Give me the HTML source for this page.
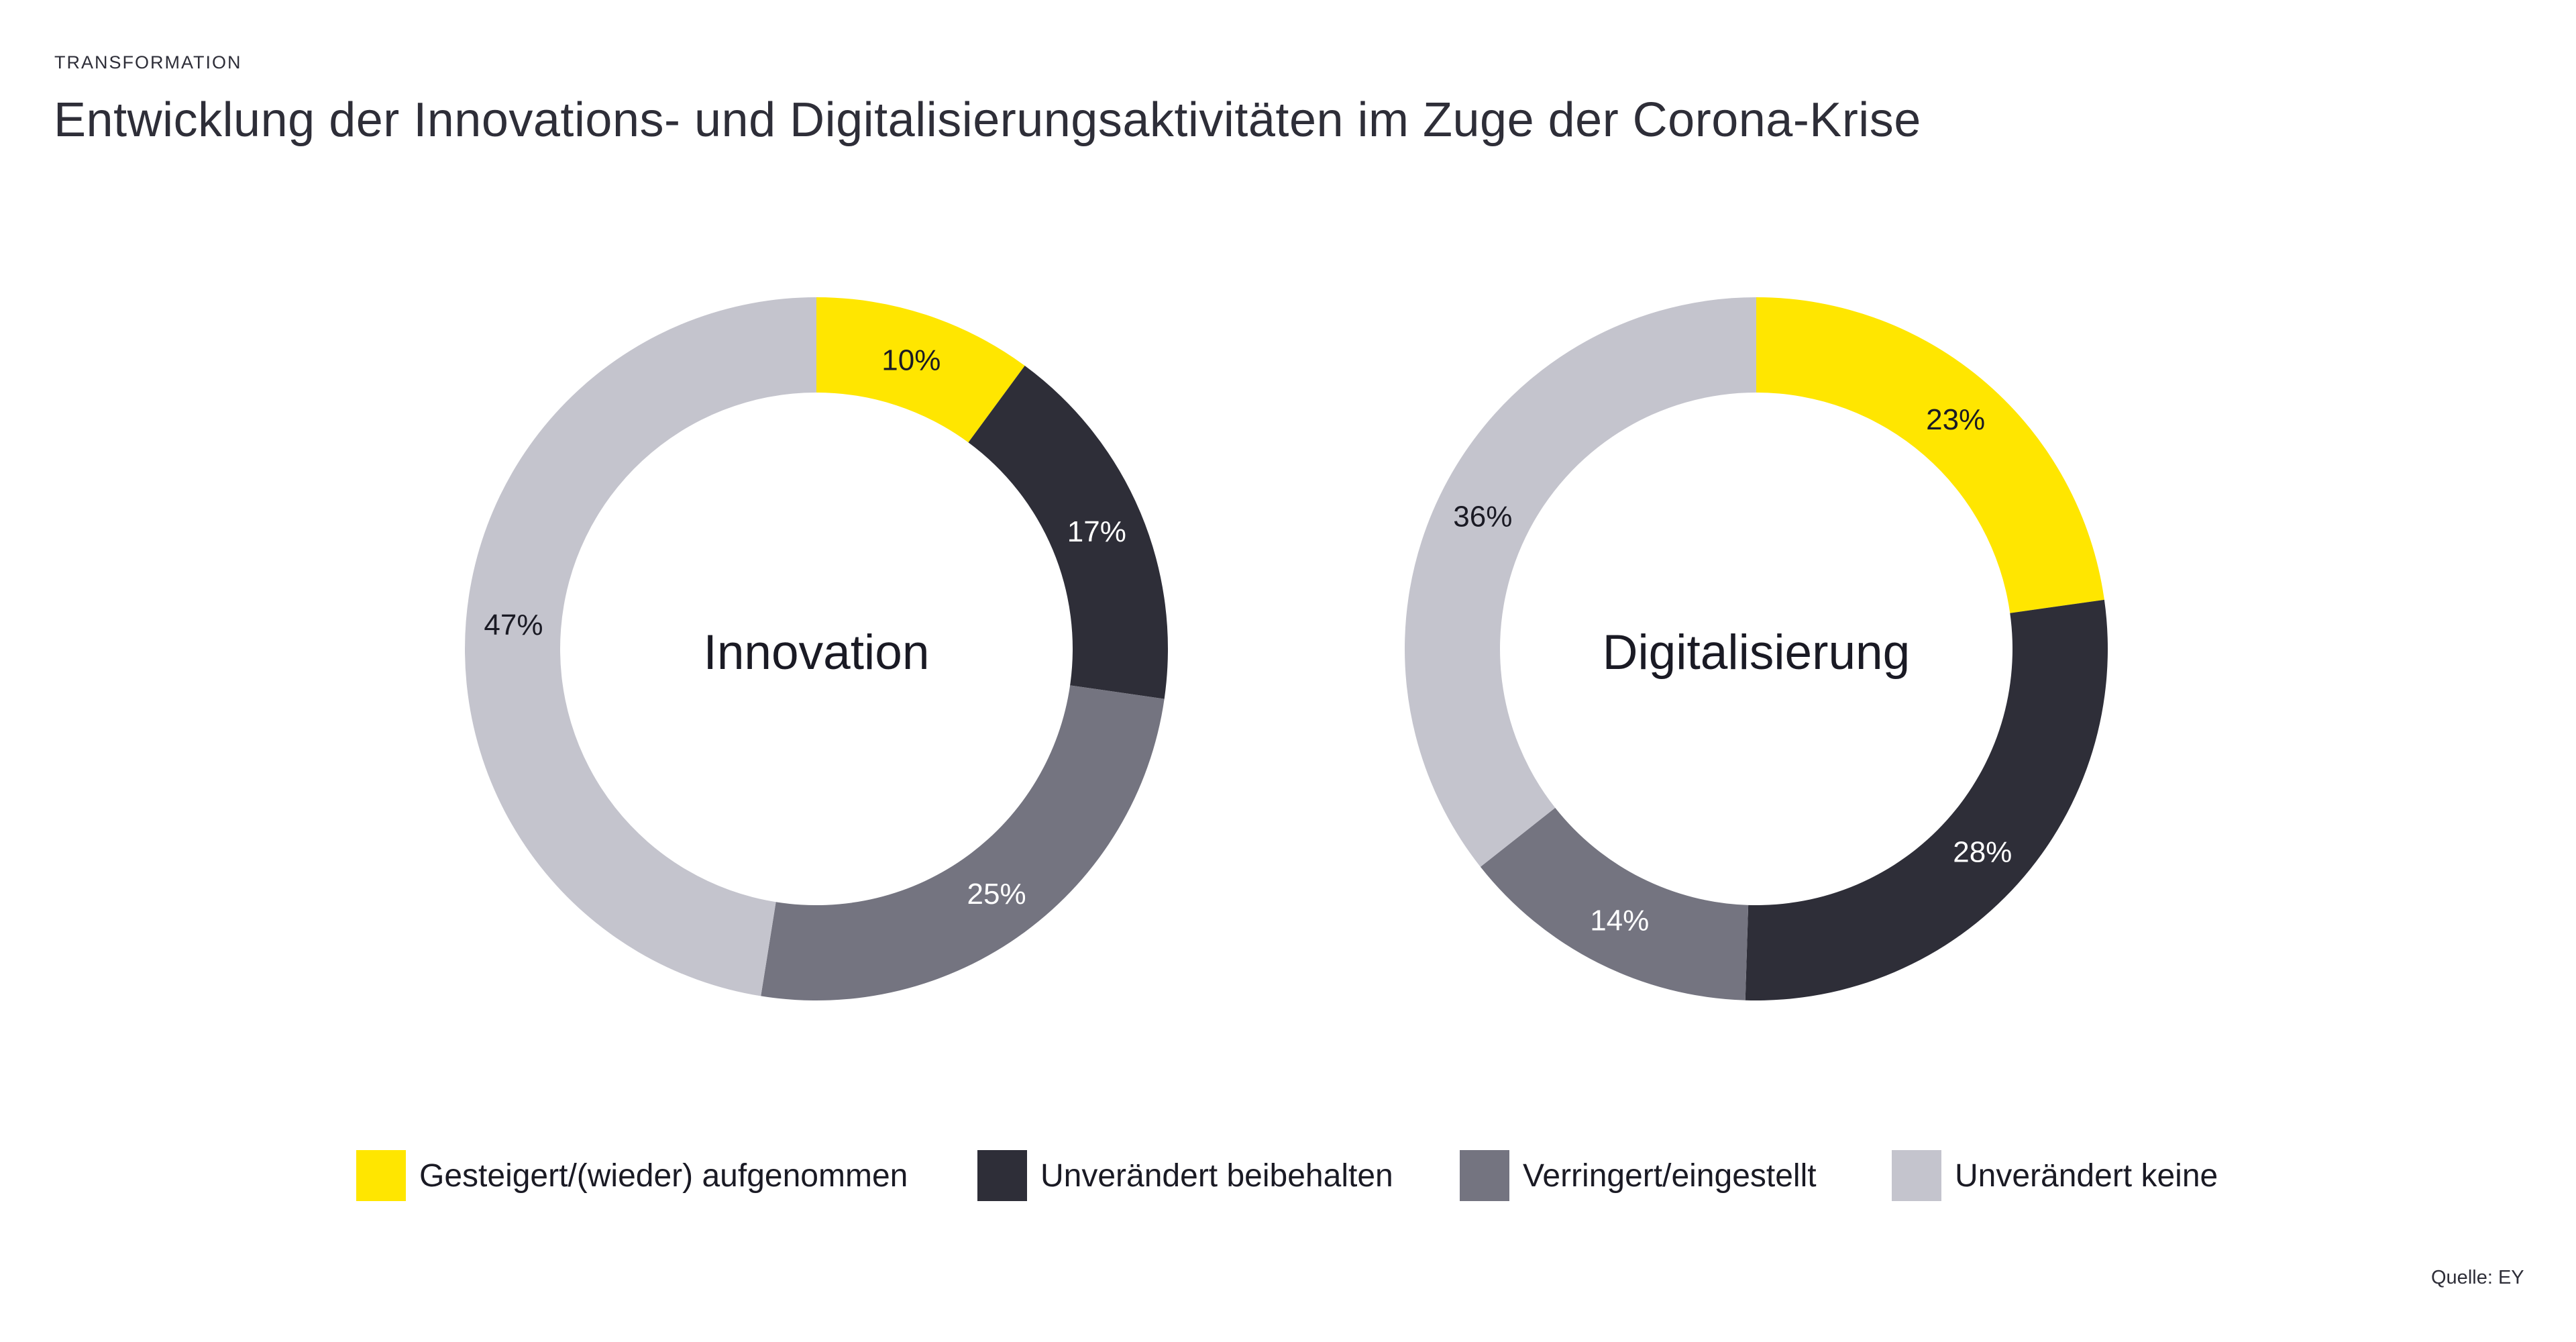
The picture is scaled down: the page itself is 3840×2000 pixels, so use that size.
<!DOCTYPE html>
<html><head><meta charset="utf-8"><style>
body{margin:0;width:3840px;height:2000px;background:#fff;font-family:"Liberation Sans",sans-serif;overflow:hidden;position:relative}
.t{position:absolute;color:#2e2e38;white-space:nowrap}
.leg{position:absolute;top:1714px;height:76px;display:flex;align-items:center}
.sw{width:74px;height:76px;margin-right:20px}
.leg span{font-size:48px;color:#1a1a24}
</style></head><body>
<div class="t" style="left:81px;top:78px;font-size:27px;letter-spacing:2px">TRANSFORMATION</div>
<div class="t" style="left:80px;top:138px;font-size:72px;letter-spacing:0.5px">Entwicklung der Innovations- und Digitalisierungsaktivitäten im Zuge der Corona-Krise</div>
<svg id="c" width="3840" height="2000" style="position:absolute;left:0;top:0"></svg>
<div class="leg" style="left:531px"><div class="sw" style="background:#ffe600"></div><span>Gesteigert/(wieder) aufgenommen</span></div>
<div class="leg" style="left:1457px"><div class="sw" style="background:#2e2e38"></div><span>Unverändert beibehalten</span></div>
<div class="leg" style="left:2176px"><div class="sw" style="background:#747480"></div><span>Verringert/eingestellt</span></div>
<div class="leg" style="left:2820px"><div class="sw" style="background:#c4c4cd"></div><span>Unverändert keine</span></div>
<div class="t" style="left:3624px;top:1888px;font-size:29px">Quelle: EY</div>
<script>
const categories=["Gesteigert/(wieder) aufgenommen","Unverändert beibehalten","Verringert/eingestellt","Unverändert keine"];
const innovationValues=[10,17,25,47];
const digitalValues=[23,28,14,36];
const chartTitles=["Innovation","Digitalisierung"];
const colors=["#ffe600","#2e2e38","#747480","#c4c4cd"];
const labelColors=["#1a1a24","#ffffff","#ffffff","#1a1a24"];
const svg=document.getElementById('c');const NS="http://www.w3.org/2000/svg";
function donut(cx,cy,vals,title,key){
 const R=524,r=382,tot=vals.reduce((a,b)=>a+b,0);let a0=0;
 const pt=(rad,a)=>[cx+rad*Math.sin(a),cy-rad*Math.cos(a)];
 vals.forEach((v,i)=>{
  const a1=a0+v/tot*2*Math.PI,lg=(a1-a0)>Math.PI?1:0;
  const [x1,y1]=pt(R,a0),[x2,y2]=pt(R,a1),[x3,y3]=pt(r,a1),[x4,y4]=pt(r,a0);
  const p=document.createElementNS(NS,'path');
  p.setAttribute('d',`M${x1},${y1}A${R},${R} 0 ${lg} 1 ${x2},${y2}L${x3},${y3}A${r},${r} 0 ${lg} 0 ${x4},${y4}Z`);
  p.setAttribute('fill',colors[i]);
  
  
  svg.appendChild(p);
  const [lx,ly]=pt(453,(a0+a1)/2);
  const t=document.createElementNS(NS,'text');
  t.setAttribute('x',lx);t.setAttribute('y',ly+15);t.setAttribute('text-anchor','middle');
  t.setAttribute('font-size','44');t.setAttribute('fill',labelColors[i]);
  t.setAttribute('font-family','Liberation Sans, sans-serif');
  t.textContent=v+'%';
  
  
  svg.appendChild(t);a0=a1;
 });
 const c=document.createElementNS(NS,'text');
 c.setAttribute('x',cx);c.setAttribute('y',cy+30);c.setAttribute('text-anchor','middle');
 c.setAttribute('font-size','73');c.setAttribute('fill','#1a1a24');
 c.setAttribute('font-family','Liberation Sans, sans-serif');c.textContent=title;
 
 
 svg.appendChild(c);
}
donut(1217,967,innovationValues,chartTitles[0],'innovation');
donut(2618,967,digitalValues,chartTitles[1],'digitalisierung');
</script>
</body></html>
